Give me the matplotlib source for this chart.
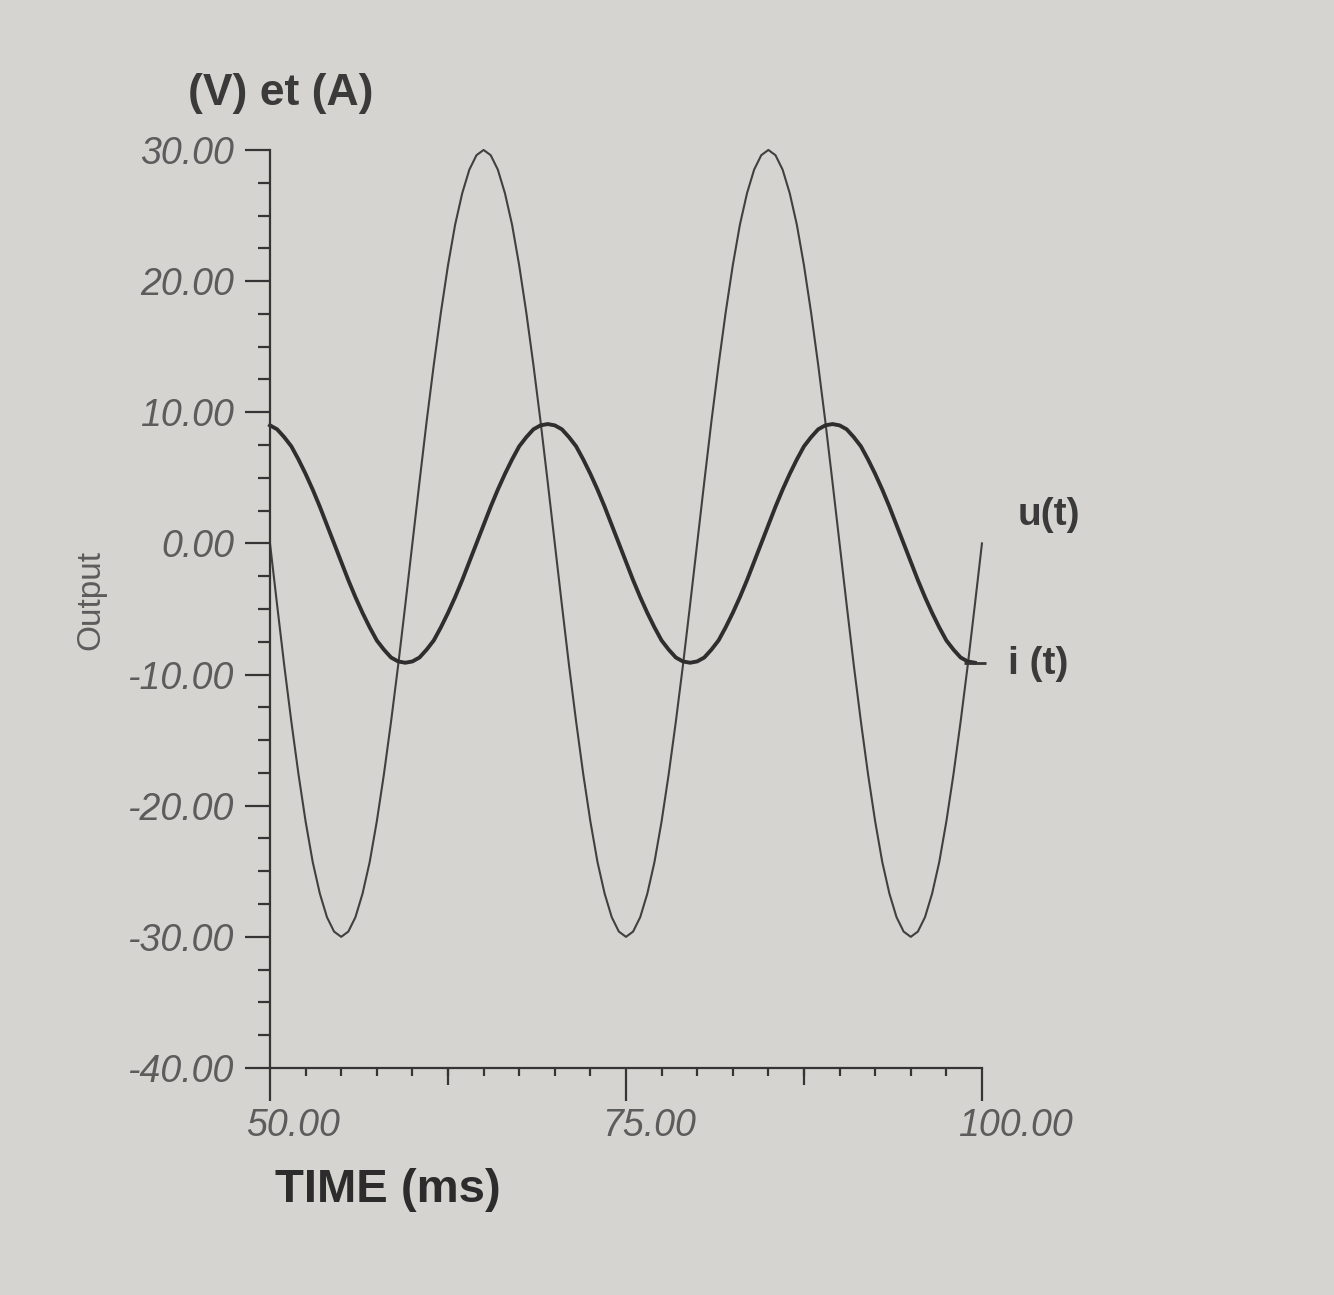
import matplotlib
matplotlib.use('Agg')
import matplotlib.pyplot as plt
import matplotlib.transforms as mtransforms
from matplotlib.ticker import MultipleLocator

plt.rcParams['font.family'] = ['Liberation Sans', 'DejaVu Sans']

# time samples (ms), every 0.5 ms
time_ms = [50.0, 50.5, 51.0, 51.5, 52.0, 52.5, 53.0, 53.5, 54.0, 54.5,
           55.0, 55.5, 56.0, 56.5, 57.0, 57.5, 58.0, 58.5, 59.0, 59.5,
           60.0, 60.5, 61.0, 61.5, 62.0, 62.5, 63.0, 63.5, 64.0, 64.5,
           65.0, 65.5, 66.0, 66.5, 67.0, 67.5, 68.0, 68.5, 69.0, 69.5,
           70.0, 70.5, 71.0, 71.5, 72.0, 72.5, 73.0, 73.5, 74.0, 74.5,
           75.0, 75.5, 76.0, 76.5, 77.0, 77.5, 78.0, 78.5, 79.0, 79.5,
           80.0, 80.5, 81.0, 81.5, 82.0, 82.5, 83.0, 83.5, 84.0, 84.5,
           85.0, 85.5, 86.0, 86.5, 87.0, 87.5, 88.0, 88.5, 89.0, 89.5,
           90.0, 90.5, 91.0, 91.5, 92.0, 92.5, 93.0, 93.5, 94.0, 94.5,
           95.0, 95.5, 96.0, 96.5, 97.0, 97.5, 98.0, 98.5, 99.0, 99.5,
           100.0]

# u(t) in V (50 .. 100 ms)
u_values = [0.0, -4.7, -9.3, -13.6, -17.6, -21.2, -24.3, -26.7, -28.5, -29.6,
            -30.0, -29.6, -28.5, -26.7, -24.3, -21.2, -17.6, -13.6, -9.3, -4.7,
            0.0, 4.7, 9.3, 13.6, 17.6, 21.2, 24.3, 26.7, 28.5, 29.6,
            30.0, 29.6, 28.5, 26.7, 24.3, 21.2, 17.6, 13.6, 9.3, 4.7,
            0.0, -4.7, -9.3, -13.6, -17.6, -21.2, -24.3, -26.7, -28.5, -29.6,
            -30.0, -29.6, -28.5, -26.7, -24.3, -21.2, -17.6, -13.6, -9.3, -4.7,
            0.0, 4.7, 9.3, 13.6, 17.6, 21.2, 24.3, 26.7, 28.5, 29.6,
            30.0, 29.6, 28.5, 26.7, 24.3, 21.2, 17.6, 13.6, 9.3, 4.7,
            0.0, -4.7, -9.3, -13.6, -17.6, -21.2, -24.3, -26.7, -28.5, -29.6,
            -30.0, -29.6, -28.5, -26.7, -24.3, -21.2, -17.6, -13.6, -9.3, -4.7,
            0.0]

# i(t) in A (50 .. 99.5 ms)
i_values = [9.0, 8.7, 8.1, 7.4, 6.4, 5.3, 4.1, 2.8, 1.4, 0.0,
            -1.4, -2.8, -4.1, -5.3, -6.4, -7.4, -8.1, -8.7, -9.0, -9.1,
            -9.0, -8.7, -8.1, -7.4, -6.4, -5.3, -4.1, -2.8, -1.4, 0.0,
            1.4, 2.8, 4.1, 5.3, 6.4, 7.4, 8.1, 8.7, 9.0, 9.1,
            9.0, 8.7, 8.1, 7.4, 6.4, 5.3, 4.1, 2.8, 1.4, 0.0,
            -1.4, -2.8, -4.1, -5.3, -6.4, -7.4, -8.1, -8.7, -9.0, -9.1,
            -9.0, -8.7, -8.1, -7.4, -6.4, -5.3, -4.1, -2.8, -1.4, 0.0,
            1.4, 2.8, 4.1, 5.3, 6.4, 7.4, 8.1, 8.7, 9.0, 9.1,
            9.0, 8.7, 8.1, 7.4, 6.4, 5.3, 4.1, 2.8, 1.4, 0.0,
            -1.4, -2.8, -4.1, -5.3, -6.4, -7.4, -8.1, -8.7, -9.0, -9.1]
time_i = time_ms[:len(i_values)]

y_ticks = [-40, -30, -20, -10, 0, 10, 20, 30]
y_tick_labels = ['-40.00', '-30.00', '-20.00', '-10.00', '0.00', '10.00', '20.00', '30.00']
x_ticks = [50, 75, 100]
x_tick_labels = ['50.00', '75.00', '100.00']
x_mid_ticks = [62.5, 87.5]

bg = '#d6d4d0'
ink = '#353535'
grey = '#5c5c5c'

fig = plt.figure(figsize=(13.34, 12.95), dpi=100, facecolor=bg)
ax = fig.add_axes([0.2024, 0.1753, 0.5337, 0.7089])
ax.set_facecolor('none')
ax.set_xlim(50, 100)
ax.set_ylim(-40, 30)

ax.plot(time_ms, u_values, color='#404040', lw=1.5, clip_on=False)
ax.plot(time_i, i_values, color='#2e2e2e', lw=2.8, clip_on=False)
# small leader mark at the end of i(t)
ax.plot([time_i[-1]], [i_values[-1]], marker='_', ms=16, mew=2, color=ink, clip_on=False)

for s in ['top', 'right']:
    ax.spines[s].set_visible(False)
for s in ['left', 'bottom']:
    ax.spines[s].set_color(ink)
    ax.spines[s].set_linewidth(1.6)

ax.set_yticks(y_ticks)
ax.set_yticklabels(y_tick_labels, fontstyle='italic')
ax.yaxis.set_minor_locator(MultipleLocator(2.5))
ax.tick_params(axis='y', which='major', direction='out', length=18, width=1.6,
               pad=8, labelsize=27, labelcolor=grey, color=ink)
ax.tick_params(axis='y', which='minor', direction='out', length=9, width=1.6, color=ink)

ax.set_xticks(x_ticks)
ax.set_xticklabels(x_tick_labels, fontstyle='italic', ha='left')
ax.xaxis.set_minor_locator(MultipleLocator(2.5))
ax.tick_params(axis='x', which='major', direction='out', length=24, width=1.6,
               pad=5, labelsize=27, labelcolor=grey, color=ink)
ax.tick_params(axis='x', which='minor', direction='out', length=6, width=1.6, color=ink)
shift = mtransforms.ScaledTranslation(-0.24, 0, fig.dpi_scale_trans)
for lab in ax.get_xticklabels():
    lab.set_transform(lab.get_transform() + shift)

sec = ax.secondary_xaxis('bottom')
sec.set_xticks(x_mid_ticks)
sec.tick_params(axis='x', which='major', direction='out', length=12, width=1.6,
                labelbottom=False, color=ink)
sec.tick_params(axis='x', which='minor', length=0)
sec.spines['bottom'].set_visible(False)

fig.text(0.141, 0.928, '(V) et (A)', fontsize=32, fontweight='bold', color='#3a3a3a',
         ha='left', va='center')
fig.text(0.068, 0.537, 'Output', fontsize=24, color=grey, rotation=90,
         ha='center', va='center')
fig.text(0.206, 0.081, 'TIME (ms)', fontsize=34, fontweight='bold', color='#2c2c2c',
         ha='left', va='center')

ax.text(102.5, 2.2, 'u(t)', fontsize=28, fontweight='bold', color='#3a3a3a',
        ha='left', va='center', clip_on=False)
ax.text(101.8, -9.2, 'i (t)', fontsize=28, fontweight='bold', color='#3a3a3a',
        ha='left', va='center', clip_on=False)

fig.savefig('out.png', dpi=100, facecolor=bg)
